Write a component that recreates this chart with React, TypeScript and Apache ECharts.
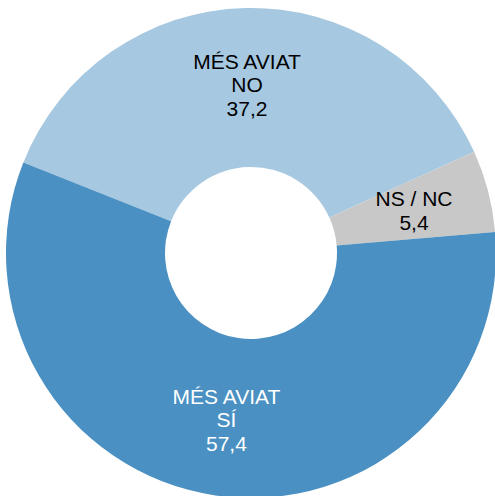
import React, { useEffect, useRef } from "react";
import * as echarts from "echarts";

const categories = ["MÉS AVIAT\nNO", "NS / NC", "MÉS AVIAT\nSÍ"];
const values = [37.2, 5.4, 57.4];
const colors = ["#a6c8e0", "#c8c8c8", "#4a90c2"];
const labelColors = ["#000000", "#000000", "#ffffff"];

export default function App() {
  const ref = useRef<HTMLDivElement>(null);
  useEffect(() => {
    if (!ref.current) return;
    const chart = echarts.init(ref.current, undefined, { renderer: "svg" });
    chart.setOption({
      animation: false,
      backgroundColor: "#ffffff",
      series: [
        {
          type: "pie",
          center: [251, 253],
          radius: [86, 245],
          startAngle: 158.3,
          clockwise: true,
          avoidLabelOverlap: false,
          labelLine: { show: false },
          itemStyle: { borderWidth: 0 },
          emphasis: { disabled: true },
          data: categories.map((name, i) => ({
            name,
            value: values[i],
            itemStyle: { color: colors[i] },
            label: {
              show: true,
              position: "inside",
              color: labelColors[i],
              fontSize: 21,
              lineHeight: 23.5,
              fontFamily: "Liberation Sans, Arial, sans-serif",
              formatter: (p: any) =>
                p.name + "\n" + String(p.value.toFixed(1)).replace(".", ","),
            },
          })),
        },
      ],
    });
    return () => chart.dispose();
  }, []);
  return (
    <div
      ref={ref}
      style={{ position: "fixed", left: 0, top: 0, width: 495, height: 496 }}
    />
  );
}
